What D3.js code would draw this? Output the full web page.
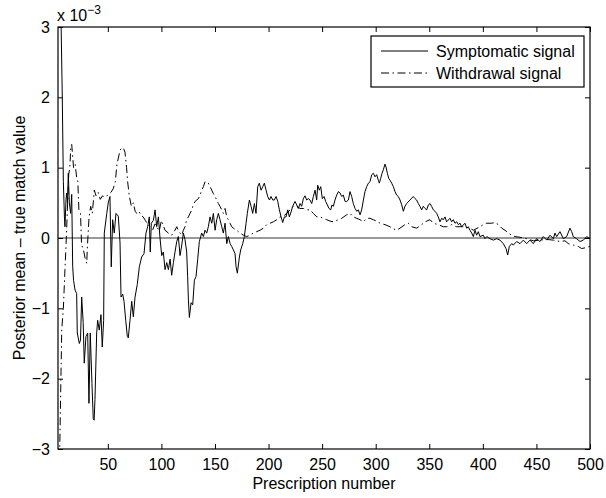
<!DOCTYPE html>
<html>
<head>
<meta charset="utf-8">
<script src="https://cdn.jsdelivr.net/npm/d3@7"></script>
<style>
  body { margin: 0; background: #fff; }
</style>
</head>
<body>
<svg width="606" height="498" font-family="Liberation Sans, Arial, sans-serif"></svg>
<script>
// values are in units of 1e-3, x = prescription number
const xTicks = [50, 100, 150, 200, 250, 300, 350, 400, 450, 500];
const yTicks = [-3, -2, -1, 0, 1, 2, 3];
const seriesNames = ['Symptomatic signal', 'Withdrawal signal'];

const symptomatic = [
  [4, 3.8], [6, 3.4], [7.5, 2.0], [8.5, 0.8], [9.5, 0.3], [10, 0.16], [11, 0.55], [11.6, 0.64],
  [12.4, 0.5], [13.1, 0.92], [14.1, 0.5], [15.3, 0.35], [16.3, 0.62], [17.2, -0.4], [18, -0.6],
  [19.4, -0.74], [20.9, -0.79], [21.5, -1.35], [23.4, -1.5], [24.5, -1.45], [25.6, -0.84],
  [27, -1.2], [28, -1.78], [29.6, -1.4], [31.2, -1.35], [32.4, -2.35], [33.6, -1.35],
  [35.2, -2.07], [36.4, -2.57], [37.2, -2.59], [38, -2.3], [39.6, -1.35], [40.5, -1.17],
  [42, -1.31], [43.6, -1.09], [44.8, -1.55], [46.1, -1.17], [46.7, 0.07], [49, 0.35],
  [50.4, 0.5], [52, 0.59], [53.2, -0.41], [54.5, 0.26], [56, 0.07], [57.6, 0.35], [59.8, 0.31],
  [61.4, -0.07], [62.3, -0.84], [63.9, -0.8], [65.1, -0.9], [66.7, -1.17], [68.2, -1.4],
  [69.1, -1.42], [70.7, -1.17], [72.3, -0.9], [73.8, -1.12], [75.4, -0.84], [77.5, -0.66],
  [79.4, -0.41], [81.6, -0.27], [83.8, -0.22], [85.6, 0.07], [87.2, 0.16], [88.7, 0.3],
  [89.6, -0.2], [90.6, 0.21], [92.5, 0.25], [94.1, 0.4], [95.6, 0.16], [97.2, 0.3], [98.7, 0.0],
  [100.3, -0.25], [101.8, -0.2], [103.4, -0.45], [105, -0.35], [106.5, -0.45], [108.1, -0.3],
  [109.6, -0.53], [111.2, -0.35], [112.7, -0.2], [114.3, -0.05], [115.8, 0.02], [117.4, -0.25],
  [119, -0.1], [120.5, 0.07], [122, -0.02], [123.6, -0.2], [124.5, -0.55], [125.2, -0.88],
  [126.1, -1.13], [127.7, -0.92], [129.2, -0.95], [130.8, -0.6], [132.3, -0.55], [133.9, -0.3],
  [135.4, -0.05], [137.6, 0.07], [139.2, 0.02], [140.7, 0.11], [142.3, 0.07], [143.8, 0.16],
  [145.4, 0.3], [147, 0.21], [148.5, 0.35], [150.1, 0.11], [151.6, 0.26], [153.2, 0.35],
  [154.7, 0.26], [156.3, 0.16], [157.8, 0.07], [159.4, 0.21], [161, -0.08], [162.5, 0.02],
  [164.1, -0.08], [165.6, -0.12], [167.2, -0.17], [168.7, -0.22], [169.7, -0.41], [170.9, -0.5],
  [172.8, -0.27], [174, -0.17], [175.9, -0.08], [177.4, 0.02], [179, 0.21], [180.2, 0.35],
  [182.1, 0.54], [183.7, 0.45], [185.2, 0.35], [186.8, 0.49], [188.3, 0.35], [189.9, 0.73],
  [191.4, 0.78], [193, 0.68], [194.6, 0.73], [196.1, 0.78], [197.7, 0.68], [199.2, 0.59],
  [200.8, 0.54], [202.3, 0.59], [203.9, 0.54], [205.4, 0.54], [207, 0.59], [208.6, 0.52],
  [210.1, 0.4], [211.7, 0.3], [213.2, 0.22], [214.8, 0.3], [216.3, 0.3], [217.9, 0.4],
  [219.4, 0.3], [221, 0.37], [222.5, 0.45], [224.7, 0.52], [226.3, 0.47], [227.8, 0.42],
  [229.4, 0.49], [230.9, 0.45], [232.5, 0.56], [234, 0.6], [235.6, 0.54], [237.1, 0.56],
  [238.7, 0.54], [240.3, 0.49], [241.8, 0.59], [243.4, 0.68], [244.9, 0.54], [245.9, 0.75],
  [247.4, 0.68], [248.7, 0.73], [250.2, 0.56], [251.8, 0.59], [253.3, 0.52], [254.9, 0.47],
  [256.4, 0.42], [258, 0.4], [259.2, 0.47], [260.5, 0.45], [262, 0.54], [263.6, 0.61],
  [265.2, 0.66], [266.7, 0.64], [268.3, 0.59], [269.8, 0.61], [271.4, 0.52], [272.9, 0.52],
  [274.5, 0.54], [276, 0.66], [277.6, 0.59], [279.1, 0.49], [280.7, 0.42], [282.3, 0.38],
  [283.8, 0.4], [285.4, 0.33], [286.9, 0.4], [288.5, 0.54], [290, 0.66], [291.6, 0.73],
  [293.2, 0.78], [294.7, 0.8], [296.3, 0.9], [297.8, 0.92], [299.4, 0.87], [300.9, 0.9],
  [302.5, 0.82], [303.4, 0.78], [304.7, 0.85], [305.9, 0.92], [307.1, 0.97], [308.7, 1.05],
  [309.6, 1.01], [310.9, 0.92], [312.1, 0.85], [313.4, 0.82], [314.9, 0.78], [316.5, 0.73],
  [318, 0.66], [319.6, 0.61], [321.1, 0.59], [322.7, 0.54], [324.3, 0.47], [325.8, 0.38],
  [327.3, 0.45], [328.9, 0.49], [332, 0.54], [335.1, 0.59], [336.7, 0.56], [338.2, 0.54],
  [339.8, 0.49], [341.3, 0.45], [342.9, 0.4], [344.4, 0.45], [346, 0.42], [347.6, 0.4],
  [349.1, 0.47], [350.7, 0.49], [352.2, 0.45], [353.8, 0.4], [355.3, 0.38], [356.9, 0.35],
  [358.4, 0.3], [360, 0.23], [361.6, 0.28], [363.1, 0.26], [364.7, 0.3], [366.2, 0.23],
  [369.3, 0.28], [370.9, 0.23], [372.4, 0.26], [374, 0.21], [375.6, 0.23], [377.1, 0.19],
  [378.7, 0.21], [380.2, 0.16], [383.3, 0.21], [384.9, 0.14], [386.4, 0.16], [388, 0.11],
  [389.6, 0.07], [391.1, 0.02], [392.7, 0.11], [394.2, 0.04], [395.8, 0.09], [397.3, 0.02],
  [400.4, 0.04], [402, -0.01], [403.6, 0.02], [406.7, -0.01], [409.8, -0.03], [412.9, -0.01],
  [416, -0.03], [419.1, -0.08], [421.6, -0.15], [423.2, -0.24], [424.7, -0.12], [426.9, -0.08],
  [428.4, -0.1], [431.6, -0.05], [434.7, -0.08], [437.8, -0.03], [440.9, -0.08], [444, -0.03],
  [447.1, -0.08], [450.2, -0.01], [453.3, -0.05], [456.4, 0.02], [459.6, -0.03], [462.7, 0.04],
  [465.8, -0.01], [467.3, 0.07], [468.9, 0.02], [472, 0.09], [475.1, -0.01], [478.2, 0.02],
  [481.3, 0.14], [482.9, 0.09], [484.4, 0.02], [487.5, -0.01], [490.7, -0.05], [493.8, -0.03],
  [496.9, 0.02], [500, -0.01]
];

const withdrawal = [
  [3.5, -3.6], [5, -3.1], [6, -2.2], [7, -1.3], [8.5, -1.0], [10, -0.45], [11, -0.1], [12, 0.3],
  [13.5, 0.9], [14.5, 1.0], [15.5, 1.3], [16.3, 1.33], [17, 1.2], [18, 1.0], [19.5, 1.05],
  [21, 0.85], [22, 0.8], [23, 0.4], [24.5, 0.35], [25.5, -0.1], [27, -0.15], [29, -0.3],
  [30.3, -0.36], [31, -0.1], [32.5, 0.3], [34, 0.45], [35.5, 0.35], [37.4, 0.68], [39, 0.6],
  [41, 0.65], [43, 0.55], [45, 0.6], [47, 0.58], [49, 0.6], [51, 0.62], [53, 0.65], [55, 0.7],
  [57, 0.8], [58.5, 1.05], [60, 1.15], [61.5, 1.25], [63, 1.28], [64.5, 1.28], [66, 1.22],
  [67.5, 1.0], [68.5, 0.8], [70, 0.6], [72, 0.45], [73.8, 0.5], [75.5, 0.38], [77, 0.35],
  [79, 0.38], [81, 0.32], [83, 0.3], [85, 0.25], [87, 0.2], [89.4, 0.16], [92, 0.12], [94, 0.2],
  [96, 0.15], [98, 0.1], [100, 0.25], [103.4, 0.11], [106.5, 0.07], [109.6, 0.04], [112.7, 0.11],
  [114.3, 0.16], [115.8, 0.11], [117.4, 0.07], [119, 0.04], [120.5, 0.11], [122, 0.16],
  [123.6, 0.26], [125.2, 0.3], [126.7, 0.35], [128.3, 0.4], [129.8, 0.47], [131.4, 0.52],
  [133, 0.54], [134.5, 0.56], [136.1, 0.61], [137.6, 0.68], [139.2, 0.73], [140.7, 0.8],
  [142.3, 0.8], [143.8, 0.78], [145.4, 0.73], [147, 0.68], [148.5, 0.63], [150.1, 0.59],
  [151.6, 0.54], [153.2, 0.49], [154.7, 0.45], [156.3, 0.4], [157.8, 0.35], [159.4, 0.42],
  [161, 0.3], [162.5, 0.26], [164.1, 0.21], [165.6, 0.16], [167.2, 0.14], [170.3, 0.11],
  [173.4, 0.07], [176.5, 0.04], [179.6, 0.02], [182.7, 0.04], [185.8, 0.07], [188.9, 0.09],
  [192, 0.11], [195.2, 0.14], [198.3, 0.19], [201.4, 0.21], [204.5, 0.23], [207.6, 0.26],
  [210.7, 0.3], [213.8, 0.31], [216.9, 0.35], [220, 0.4], [223.1, 0.45], [226.3, 0.45],
  [229.4, 0.42], [232.5, 0.42], [235.6, 0.4], [238.7, 0.4], [241.8, 0.35], [245, 0.3], [248, 0.3],
  [251, 0.28], [254.3, 0.26], [257.4, 0.24], [260.5, 0.23], [265.2, 0.26], [268.3, 0.28],
  [272.9, 0.33], [276, 0.35], [279.1, 0.3], [282.3, 0.28], [285.4, 0.26], [288.5, 0.23],
  [291.6, 0.28], [294.7, 0.28], [297.8, 0.26], [301, 0.24], [304, 0.21], [308.7, 0.19],
  [313.3, 0.16], [316.5, 0.13], [319.6, 0.11], [322.7, 0.14], [327.3, 0.19], [330.4, 0.21],
  [333.6, 0.16], [338.2, 0.14], [342.9, 0.19], [346, 0.23], [350.7, 0.26], [353.8, 0.21],
  [358.4, 0.19], [363.1, 0.16], [366.2, 0.16], [370.9, 0.19], [375.6, 0.16], [381.8, 0.16],
  [388, 0.14], [391.1, 0.11], [397.3, 0.16], [400.4, 0.19], [403.6, 0.21], [408.2, 0.21],
  [411.3, 0.22], [414.4, 0.19], [417.6, 0.14], [420.7, 0.11], [423.8, 0.07], [426.9, 0.04],
  [430, 0.02], [434.7, 0.01], [440.9, -0.01], [447.1, -0.04], [453.3, -0.03], [459.6, -0.02],
  [465.8, -0.03], [472, -0.05], [476.7, -0.04], [479.8, -0.08], [484.4, -0.1], [489.1, -0.12],
  [492.2, -0.15], [495.3, -0.14], [500, -0.12]
];

const svg = d3.select('svg');
const margin = { top: 27, right: 16, bottom: 49, left: 58 };
const width = +svg.attr('width');
const height = +svg.attr('height');
const innerWidth = width - margin.left - margin.right;
const innerHeight = height - margin.top - margin.bottom;
const fontFamily = 'Liberation Sans, Arial, sans-serif';
const tickLen = 5;
const dashDot = '8,3.5,1.5,3.5';

const xScale = d3.scaleLinear().domain([3.5, 500]).range([0, innerWidth]);
const yScale = d3.scaleLinear().domain([-3, 3]).range([innerHeight, 0]);

const g = svg.append('g')
    .attr('transform', `translate(${margin.left}, ${margin.top})`);

g.append('clipPath').attr('id', 'plot-clip')
  .append('rect')
    .attr('width', innerWidth)
    .attr('height', innerHeight);

// zero reference line
g.append('line')
    .attr('x1', 0).attr('x2', innerWidth)
    .attr('y1', yScale(0)).attr('y2', yScale(0))
    .attr('stroke', '#777')
    .attr('stroke-width', 1.4);

const line = d3.line()
    .x(d => xScale(d[0]))
    .y(d => yScale(d[1]));

const plot = g.append('g').attr('clip-path', 'url(#plot-clip)');

plot.append('path')
    .datum(withdrawal)
    .attr('fill', 'none')
    .attr('stroke', '#000')
    .attr('stroke-width', 1)
    .attr('stroke-dasharray', dashDot)
    .attr('d', line);

plot.append('path')
    .datum(symptomatic)
    .attr('fill', 'none')
    .attr('stroke', '#000')
    .attr('stroke-width', 1)
    .attr('d', line);

// ticks point inwards on all four sides, labels only bottom and left
const xAxis = d3.axisBottom(xScale).tickValues(xTicks).tickSize(-tickLen).tickPadding(10);
const yAxis = d3.axisLeft(yScale).tickValues(yTicks).tickSize(-tickLen).tickPadding(8)
    .tickFormat(d => d < 0 ? '\u2212' + Math.abs(d) : d);

g.append('g')
    .attr('transform', `translate(0, ${innerHeight})`)
    .call(xAxis)
    .attr('font-size', 16)
    .attr('font-family', fontFamily);
g.append('g')
    .call(yAxis)
    .attr('font-size', 16)
    .attr('font-family', fontFamily);

const topTicks = g.append('g')
    .call(d3.axisTop(xScale).tickValues(xTicks).tickSize(-tickLen));
const rightTicks = g.append('g')
    .attr('transform', `translate(${innerWidth}, 0)`)
    .call(d3.axisRight(yScale).tickValues(yTicks).tickSize(-tickLen));
topTicks.selectAll('text').remove();
rightTicks.selectAll('text').remove();

g.selectAll('.domain').remove();
g.selectAll('.tick line').attr('stroke', '#000');
g.selectAll('.tick text').attr('fill', '#000');

g.append('rect')
    .attr('width', innerWidth)
    .attr('height', innerHeight)
    .attr('fill', 'none')
    .attr('stroke', '#000')
    .attr('stroke-width', 1.2);

// exponent label
const expText = svg.append('text')
    .attr('x', 57)
    .attr('y', 21)
    .attr('font-size', 16);
expText.append('tspan').text('x 10');
expText.append('tspan').attr('dy', -7).attr('font-size', 12).text('\u22123');

svg.append('text')
    .attr('x', margin.left + innerWidth / 2)
    .attr('y', 489)
    .attr('text-anchor', 'middle')
    .attr('font-size', 16)
    .text('Prescription number');

svg.append('text')
    .attr('transform', `translate(25, ${margin.top + innerHeight / 2}) rotate(-90)`)
    .attr('text-anchor', 'middle')
    .attr('font-size', 16)
    .text('Posterior mean \u2013 true match value');

// legend
const legend = svg.append('g').attr('transform', 'translate(371, 36)');
legend.append('rect')
    .attr('width', 213)
    .attr('height', 51)
    .attr('fill', '#fff')
    .attr('stroke', '#000')
    .attr('stroke-width', 1.2);

seriesNames.forEach((name, i) => {
    const y = 15 + i * 22;
    legend.append('line')
        .attr('x1', 10).attr('x2', 57)
        .attr('y1', y).attr('y2', y)
        .attr('stroke', '#000')
        .attr('stroke-width', 1)
        .attr('stroke-dasharray', i === 1 ? dashDot : null);
    legend.append('text')
        .attr('x', 65)
        .attr('y', y + 6)
        .attr('font-size', 16)
        .text(name);
});
</script>
</body>
</html>
